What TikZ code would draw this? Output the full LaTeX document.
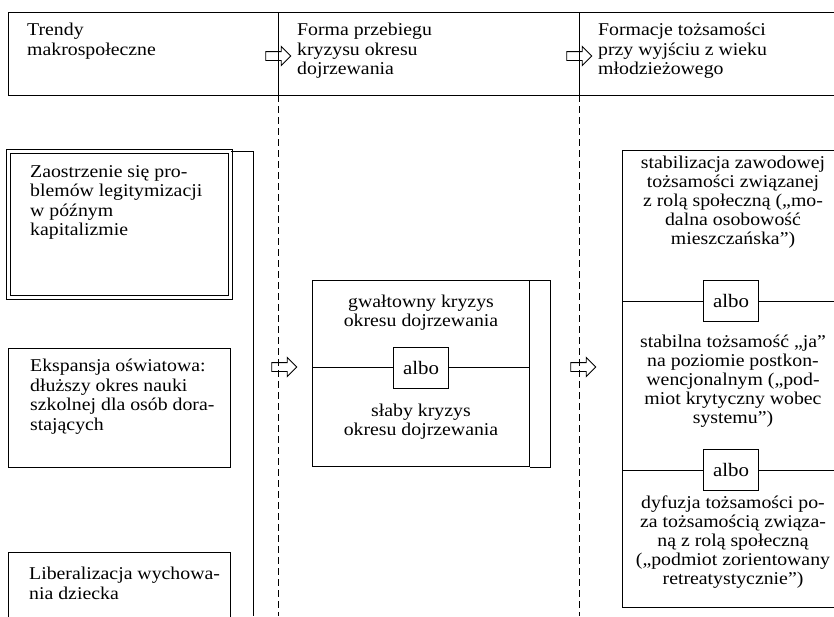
\documentclass[tikz,border=0pt]{standalone}
\usepackage{fontspec}
\setmainfont{Liberation Serif}[FakeStretch=1.1]
\usetikzlibrary{shapes.arrows}
\begin{document}
\begin{tikzpicture}[x=1pt,y=-1pt,
  frame/.style={draw, line width=1pt, inner sep=0pt, anchor=north west},
  txt/.style={font=\fontsize{18}{19.5}\selectfont, inner sep=0pt, align=left, anchor=north west},
  ctxt/.style={font=\fontsize{18}{19}\selectfont, inner sep=0pt, align=center, anchor=north},
  albobox/.style={draw, fill=white, line width=1pt, minimum width=55pt, minimum height=41pt, inner sep=0pt, font=\fontsize{19}{20}\selectfont},
  openarrow/.style={single arrow, draw, line width=0.9pt, minimum height=25pt, inner sep=4pt, single arrow head extend=5pt},
  sepline/.style={line width=0.8pt},
  dashsep/.style={line width=0.7pt, dash pattern=on 7pt off 4pt}
]
\useasboundingbox (0,0) rectangle (834,616);

% header
\node[frame, line width=1.3pt, minimum width=832pt, minimum height=83pt] (hdr) at (8,12) {};
\coordinate (s1t) at (278,12);
\coordinate (s1b) at (278,95);
\coordinate (s1e) at (278,616);
\coordinate (s2t) at (579,12);
\coordinate (s2b) at (579,95);
\coordinate (s2e) at (579,616);
\draw[sepline] (s1t) -- (s1b);
\draw[sepline] (s2t) -- (s2b);
\draw[dashsep] (s1b) -- (s1e);
\draw[dashsep] (s2b) -- (s2e);

\node[txt] (h1) at (27,23) {Trendy\\makrospołeczne};
\node[txt] (h2) at (297,23) {Forma przebiegu\\kryzysu okresu\\dojrzewania};
\node[txt] (h3) at (598,23) {Formacje tożsamości\\przy wyjściu z wieku\\młodzieżowego};

\node[openarrow] (ha1) at (276,56) {};
\node[openarrow] (ha2) at (577,56) {};

% left column
\node[frame, double, double distance=2.5pt, line width=1.1pt, minimum width=222pt, minimum height=146pt] (b1) at (8,151) {};
\node[txt] (t1) at (30,165) {Zaostrzenie się pro-\\blemów legitymizacji\\w późnym\\kapitalizmie};
\node[frame, minimum width=222pt, minimum height=119pt] (b2) at (8,348) {};
\node[txt] (t2) at (30,359) {Ekspansja oświatowa:\\dłuższy okres nauki\\szkolnej dla osób dora-\\stających};
\node[frame, minimum width=222pt, minimum height=70pt] (b3) at (8,552) {};
\node[txt] (t3) at (29,567) {Liberalizacja wychowa-\\nia dziecka};
\coordinate (lb1) at (253,151);
\coordinate (lb2) at (253,616);
\draw[line width=1pt] (b1.north east) -- (lb1) -- (lb2);

\node[openarrow] (ba1) at (282,367) {};

% middle column
\node[frame, minimum width=217pt, minimum height=186pt] (mid) at (312,280) {};
\draw[line width=1pt] (mid.north east) -- ++(20,0) |- (mid.south east);
\coordinate (md) at (312,367);
\draw[line width=1pt] (md) -- (md -| mid.east);
\node[albobox] (ma) at (421,368) {albo};
\node[ctxt] (m1) at (421,295) {gwałtowny kryzys\\okresu dojrzewania};
\node[ctxt] (m2) at (421,404) {słaby kryzys\\okresu dojrzewania};

\node[openarrow] (ba2) at (581,367) {};

% right column
\node[frame, minimum width=220pt, minimum height=457pt] (rb) at (622,150) {};
\coordinate (rd1) at (622,301);
\coordinate (rd2) at (622,470);
\draw[line width=1pt] (rd1) -- (rd1 -| rb.east);
\draw[line width=1pt] (rd2) -- (rd2 -| rb.east);
\node[albobox] (ra1) at (731,301) {albo};
\node[albobox] (ra2) at (731,470) {albo};
\node[ctxt] (r1) at (733,156) {stabilizacja zawodowej\\tożsamości związanej\\z rolą społeczną („mo-\\dalna osobowość\\mieszczańska”)};
\node[ctxt] (r2) at (733,335) {stabilna tożsamość „ja”\\na poziomie postkon-\\wencjonalnym („pod-\\miot krytyczny wobec\\systemu”)};
\node[ctxt] (r3) at (733,496) {dyfuzja tożsamości po-\\za tożsamością związa-\\ną z rolą społeczną\\(„podmiot zorientowany\\retreatystycznie”)};
\end{tikzpicture}
\end{document}
